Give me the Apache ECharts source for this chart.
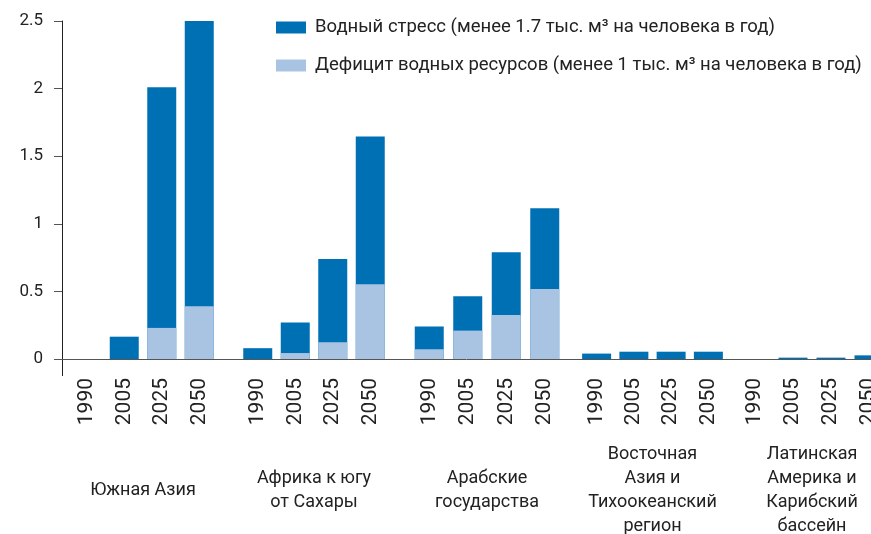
<!DOCTYPE html>
<html>
<head>
<meta charset="utf-8">
<script src="https://cdn.jsdelivr.net/npm/echarts@6/dist/echarts.min.js"></script>
<style>
  html, body { margin: 0; padding: 0; background: #fff; }
  #main { width: 871px; height: 534px; }
</style>
</head>
<body>
<div id="main"></div>
<script>
var years = ['1990', '2005', '2025', '2050'];
var regions = ['Южная Азия', 'Африка к югу\nот Сахары', 'Арабские\nгосударства',
  'Восточная\nАзия и\nТихоокеанский\nрегион', 'Латинская\nАмерика и\nКарибский\nбассейн'];
var yTicks = [0, 0.5, 1, 1.5, 2, 2.5];

// водный стресс (полная высота столбца)
var stressSouthAsia = [0, 0.165, 2.01, 2.51];
var stressAfrica = [0.08, 0.27, 0.74, 1.645];
var stressArab = [0.24, 0.465, 0.79, 1.115];
var stressEastAsia = [0.04, 0.054, 0.054, 0.054];
var stressLatAm = [0, 0.01, 0.01, 0.027];
// дефицит водных ресурсов (нижняя часть)
var deficitSouthAsia = [0, 0, 0.23, 0.39];
var deficitAfrica = [0, 0.044, 0.124, 0.553];
var deficitArab = [0.072, 0.21, 0.326, 0.518];
var deficitEastAsia = [0, 0, 0, 0];
var deficitLatAm = [0, 0, 0, 0];

var stressName = 'Водный стресс (менее 1.7 тыс. м³ на человека в год)';
var deficitName = 'Дефицит водных ресурсов (менее 1 тыс. м³ на человека в год)';
var darkBlue = '#0070b4';
var lightBlue = '#a9c4e2';
var font = 'Roboto';

var stressData = [stressSouthAsia, stressAfrica, stressArab, stressEastAsia, stressLatAm];
var deficitData = [deficitSouthAsia, deficitAfrica, deficitArab, deficitEastAsia, deficitLatAm];
// положение групп по горизонтали
var groupLeft = [68, 239, 410, 578, 736];
var groupWidth = [150, 150, 154, 149, 152];

var chart = echarts.init(document.getElementById('main'));

var grids = [{left: 62, right: 0, top: 21, height: 338, outerBoundsMode: 'none', containLabel: false}];
var xAxes = [{
  gridIndex: 0, type: 'value', min: 0, max: 1,
  axisLine: {show: true, lineStyle: {color: '#555', width: 1}},
  axisTick: {show: false}, axisLabel: {show: false}, splitLine: {show: false}
}];
var yAxes = [{
  gridIndex: 0, type: 'value', min: 0, max: 2.5, interval: 0.5,
  axisLine: {show: true, lineStyle: {color: '#222', width: 1}},
  axisTick: {show: true, length: 8, lineStyle: {color: '#555'}},
  splitLine: {show: false},
  axisLabel: {
    margin: 19, color: '#222', fontFamily: font, fontSize: 17,
    formatter: function (v) { return yTicks.indexOf(v) >= 0 ? String(v) : ''; }
  }
}];
var series = [];

for (var i = 0; i < regions.length; i++) {
  var g = i + 1;
  grids.push({left: groupLeft[i], width: groupWidth[i], top: 21, height: 338,
    outerBoundsMode: 'none', containLabel: false});
  xAxes.push({
    gridIndex: g, type: 'category', data: years,
    name: regions[i], nameLocation: 'middle', nameGap: 131,
    nameTextStyle: {color: '#222', fontFamily: font, fontSize: 18, lineHeight: 24, verticalAlign: 'middle'},
    axisLine: {show: false}, axisTick: {show: false},
    axisLabel: {rotate: 90, margin: 19, color: '#222', fontFamily: font, fontSize: 21, interval: 0}
  });
  yAxes.push({gridIndex: g, type: 'value', min: 0, max: 2.5, show: false});
  series.push({
    name: stressName, type: 'bar', xAxisIndex: g, yAxisIndex: g,
    data: stressData[i], barWidth: 29, barGap: '-100%',
    itemStyle: {color: darkBlue}
  });
  series.push({
    name: deficitName, type: 'bar', xAxisIndex: g, yAxisIndex: g,
    data: deficitData[i], barWidth: 29, barGap: '-100%',
    itemStyle: {color: lightBlue}
  });
}

var option = {
  animation: false,
  backgroundColor: '#fff',
  legend: {
    data: [stressName, deficitName],
    orient: 'vertical', left: 276, top: 18, padding: 0,
    itemWidth: 30, itemHeight: 12, itemGap: 19,
    icon: 'rect',
    textStyle: {color: '#222', fontFamily: font, fontSize: 18.5, padding: [0, 0, 0, 4]}
  },
  grid: grids,
  xAxis: xAxes,
  yAxis: yAxes,
  series: series,
  graphic: [{
    type: 'line', shape: {x1: 62.5, y1: 359, x2: 62.5, y2: 376},
    style: {stroke: '#222', lineWidth: 1}
  }]
};

option && chart.setOption(option);
</script>
</body>
</html>
